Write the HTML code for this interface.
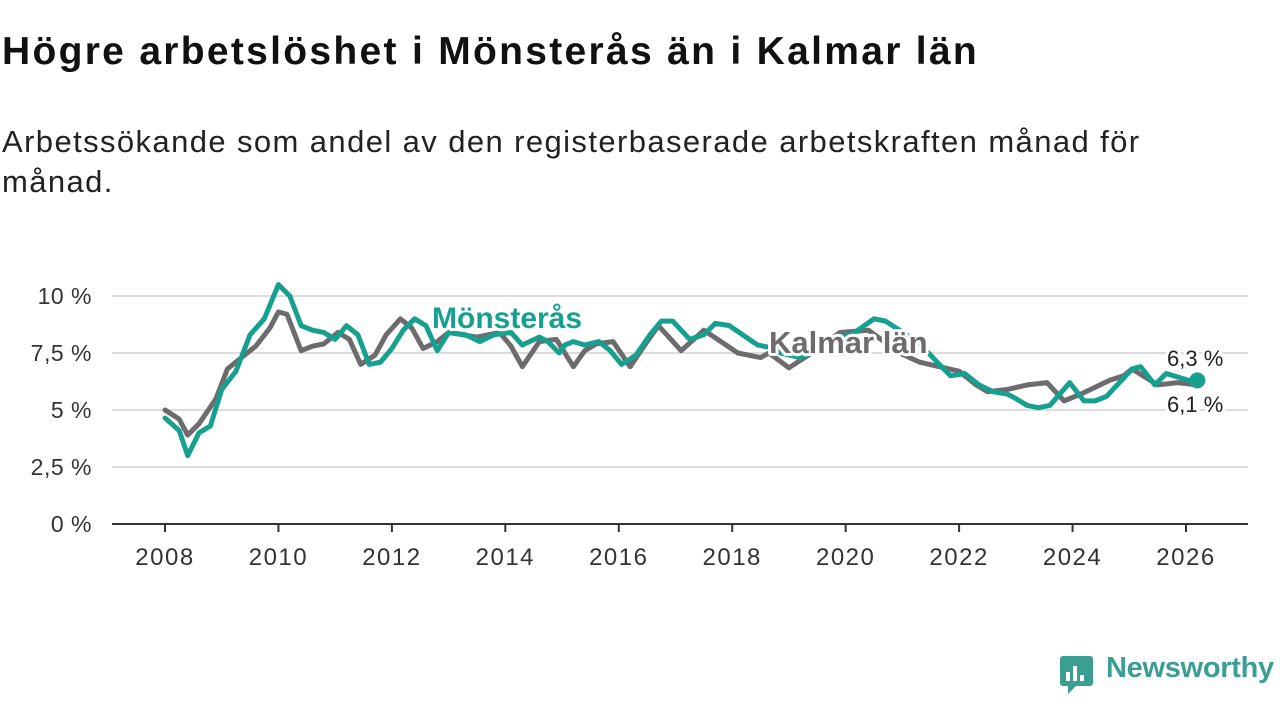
<!DOCTYPE html>
<html><head><meta charset="utf-8">
<style>
body{margin:0;width:1280px;height:720px;background:#fff;font-family:"Liberation Sans",sans-serif;overflow:hidden;position:relative}
h1{position:absolute;left:2px;top:30px;margin:0;font-size:39px;letter-spacing:2.3px;font-weight:bold;color:#111}
.sub{position:absolute;left:2px;top:122px;margin:0;font-size:31px;letter-spacing:1.4px;line-height:40px;color:#222;width:1200px}
svg{position:absolute;left:0;top:0}
.logo{position:absolute;left:1106px;top:652px;font-size:29px;color:#3a9e92;font-weight:bold;letter-spacing:-0.3px}
</style></head><body>
<h1>Högre arbetslöshet i Mönsterås än i Kalmar län</h1>
<p class="sub">Arbetssökande som andel av den registerbaserade arbetskraften månad för månad.</p>
<svg id="chart" width="1280" height="720"></svg>
<svg width="1280" height="720"><rect x="1060" y="656" width="33" height="30" rx="3" fill="#3a9e92"/><polygon points="1068,686 1076,686 1068,694" fill="#3a9e92"/><rect x="1066" y="672" width="4" height="9" fill="#fff"/><rect x="1073" y="666" width="4" height="15" fill="#fff"/><rect x="1080" y="675" width="4" height="6" fill="#fff"/></svg>
<div class="logo">Newsworthy</div>
<script>
const yTicks=[0,2.5,5,7.5,10];
const yTickLabels=["0 %","2,5 %","5 %","7,5 %","10 %"];
const xTicks=[2008,2010,2012,2014,2016,2018,2020,2022,2024,2026];
const monsYears=[2008,2008.25,2008.4,2008.6,2008.8,2009,2009.25,2009.5,2009.75,2010,2010.2,2010.4,2010.6,2010.8,2011,2011.2,2011.4,2011.6,2011.8,2012,2012.2,2012.4,2012.6,2012.8,2013,2013.3,2013.55,2013.8,2014.1,2014.3,2014.6,2014.75,2014.95,2015.05,2015.2,2015.4,2015.65,2015.85,2016.05,2016.3,2016.55,2016.75,2016.95,2017.25,2017.5,2017.7,2017.95,2018.3,2018.45,2018.75,2018.85,2019.2,2019.5,2019.8,2020.1,2020.5,2020.7,2020.95,2021.3,2021.5,2021.65,2021.85,2022.1,2022.35,2022.6,2022.85,2023.0,2023.2,2023.4,2023.6,2023.95,2024.2,2024.4,2024.6,2025.05,2025.2,2025.45,2025.65,2026.05,2026.2];
const monsVals=[4.65,4.1,3.0,4.0,4.3,5.9,6.7,8.3,9.0,10.5,10.0,8.7,8.5,8.4,8.1,8.7,8.3,7.0,7.1,7.7,8.5,9.0,8.7,7.6,8.4,8.3,8.0,8.3,8.4,7.85,8.2,8.0,7.5,7.85,8.0,7.85,8.0,7.6,7.0,7.4,8.3,8.9,8.9,8.1,8.3,8.8,8.7,8.1,7.85,7.7,7.5,7.3,7.6,8.2,8.3,9.0,8.9,8.5,7.9,7.4,7.0,6.5,6.6,6.1,5.8,5.7,5.5,5.2,5.1,5.2,6.2,5.4,5.4,5.6,6.8,6.9,6.1,6.6,6.3,6.3];
const kalYears=[2008,2008.25,2008.4,2008.6,2008.9,2009.1,2009.35,2009.6,2009.85,2010,2010.15,2010.4,2010.6,2010.8,2011.05,2011.25,2011.45,2011.7,2011.9,2012.15,2012.35,2012.55,2012.8,2013,2013.5,2013.9,2014.1,2014.3,2014.6,2014.9,2015.2,2015.4,2015.6,2015.9,2016.2,2016.5,2016.7,2017.1,2017.5,2018.1,2018.5,2018.65,2019,2019.4,2019.9,2020.4,2020.95,2021.3,2021.65,2022,2022.3,2022.5,2022.85,2023.2,2023.55,2023.85,2024.15,2024.4,2024.65,2024.9,2025.05,2025.5,2025.85,2026.2];
const kalVals=[5.0,4.6,3.9,4.4,5.5,6.8,7.3,7.8,8.6,9.3,9.2,7.6,7.8,7.9,8.4,8.1,7.0,7.4,8.3,9.0,8.6,7.7,8.0,8.4,8.2,8.4,7.8,6.9,8.0,8.1,6.9,7.6,7.9,8.0,6.9,8.0,8.7,7.6,8.5,7.5,7.3,7.5,6.85,7.5,8.4,8.5,7.5,7.1,6.9,6.7,6.1,5.8,5.9,6.1,6.2,5.4,5.7,6.0,6.3,6.5,6.8,6.1,6.2,6.1];
const svg=document.getElementById('chart');
const NS='http://www.w3.org/2000/svg';
const X=y=>165+(y-2008)*(1186-165)/18;
const Y=v=>524-v*22.8;
function mk(t,a,txt){const e=document.createElementNS(NS,t);for(const k in a)e.setAttribute(k,a[k]);if(txt!=null)e.textContent=txt;svg.appendChild(e);return e;}
yTicks.forEach((v,i)=>{
 if(v>0){const g=mk('line',{x1:112,x2:1248,y1:Y(v),y2:Y(v),stroke:'#ddd','stroke-width':2});
 
 }
 const t=mk('text',{x:92,y:Y(v)+8,'text-anchor':'end','font-size':23,'letter-spacing':0.5,fill:'#333'},yTickLabels[i]);
 
 
});
const ax=mk('line',{x1:112,x2:1248,y1:524,y2:524,stroke:'#333','stroke-width':2});


xTicks.forEach(yr=>{
 const tk=mk('line',{x1:X(yr),x2:X(yr),y1:524,y2:532,stroke:'#333','stroke-width':2});
 
 
 const t=mk('text',{x:X(yr),y:565,'text-anchor':'middle','font-size':24,'letter-spacing':1.5,fill:'#333'},String(yr));
 
 
});
function line(xs,vs,col,name){
 const p=mk('polyline',{points:xs.map((x,i)=>X(x)+','+Y(vs[i])).join(' '),fill:'none',stroke:col,'stroke-width':5,'stroke-linejoin':'round','stroke-linecap':'round'});
 
 
}
line(kalYears,kalVals,'#6d6b6e','kalmar-line');
line(monsYears,monsVals,'#16a090','monsteras-line');
const d=mk('circle',{cx:X(monsYears[monsYears.length-1]),cy:Y(monsVals[monsVals.length-1]),r:8,fill:'#16a090'});


function lab(x,y,txt,col,name,bold,size){
 const t=mk('text',{x:x,y:y,'font-size':size,'font-weight':bold?'bold':'normal',fill:col,stroke:'#fff','stroke-width':6,'paint-order':'stroke','stroke-linejoin':'round'},txt);
 
 
}
lab(432,328,'Mönsterås','#16a090','monsteras-label',true,30);
lab(769,353,'Kalmar län','#6d6b6e','kalmar-label',true,31);
lab(1167,366,'6,3 %','#222','monsteras-end-value',false,22);
lab(1167,412,'6,1 %','#222','kalmar-end-value',false,22);
</script>
</body></html>
